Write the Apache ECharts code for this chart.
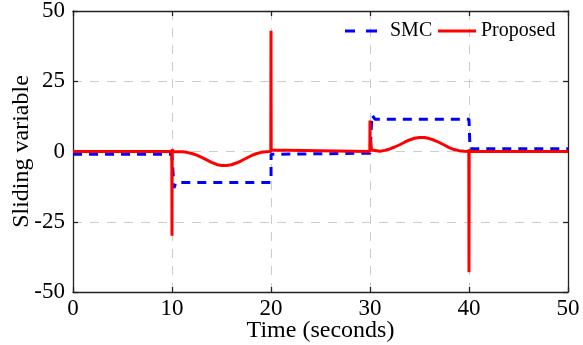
<!DOCTYPE html>
<html><head><meta charset="utf-8">
<script src="https://cdn.jsdelivr.net/npm/echarts@6/dist/echarts.min.js"></script>
<style>html,body{margin:0;padding:0;background:#fff}#c{width:583px;height:345px}</style>
</head><body><div id="c"></div>
<script>
var xTicks = [0, 10, 20, 30, 40, 50];
var yTicks = [-50, -25, 0, 25, 50];

var smcT = [0, 9.99, 10.0, 10.2, 10.4, 20.0, 20.01, 20.1, 30.0, 30.01, 30.2, 30.5, 40.0, 40.1, 50];
var smcV = [-1, -1, -1, -13, -11, -11, -1, -0.6, -0.6, -0.9, 13, 11.5, 11.5, 1, 1];

var propT = [0, 9.98, 10.0, 10.02, 10.05, 10.1, 10.2, 11, 11.5, 12, 12.5, 13, 13.5, 14, 14.5, 15, 15.5, 16, 16.5, 17, 17.5, 18, 18.5, 19, 19.5, 19.98, 20.0, 20.02, 20.05, 20.1,
  29.98, 30.0, 30.02, 30.08, 30.15, 30.2, 30.3, 31, 31.5, 32, 32.5, 33, 33.5, 34, 34.5, 35, 35.5, 36, 36.5, 37, 37.5, 38, 38.5, 39, 39.5, 39.98, 40.0, 40.02, 40.05, 40.1, 50];
var propV = [0, 0, -30, 0.8, 0.3, 0, 0, -0.1, -0.3, -0.7, -1.3, -2.1, -3.0, -3.9, -4.6, -5.0, -5.0, -4.7, -4.1, -3.3, -2.4, -1.5, -0.8, -0.3, -0.1, 0, 43, 0.5, 0.2, 0,
  0, 11, 1, 4, 0.5, 0.2, 0, 0.1, 0.4, 0.9, 1.6, 2.4, 3.3, 4.1, 4.7, 5.0, 5.0, 4.6, 4.0, 3.2, 2.3, 1.4, 0.7, 0.3, 0.1, 0, -43, 0.8, 0.2, 0, 0];

function pairs(t, v) { return t.map(function (x, i) { return [x, v[i]]; }); }

var font = 'Liberation Serif, Times New Roman, serif';
var chart = echarts.init(document.getElementById('c'));
var axisLine = { show: true, onZero: false, lineStyle: { color: '#222', width: 1.3 } };
var tick = { show: true, inside: true, length: 5, lineStyle: { color: '#222', width: 1.3 } };
var legendText = { fontFamily: font, fontSize: 20, color: '#000' };
chart.setOption({
  animation: false,
  grid: { left: 73, top: 11, width: 495, height: 281, outerBoundsMode: 'none', containLabel: false },
  legend: [{
    left: 340, top: 16, itemWidth: 32, itemHeight: 3,
    textStyle: Object.assign({ padding: [0, 0, 0, 8] }, legendText),
    data: [{ name: 'SMC', icon: 'path://M0,0h10v3H0zM21,0h11v3h-11z', itemStyle: { color: '#0000ff' } }]
  }, {
    left: 433, top: 16, itemWidth: 38, itemHeight: 3,
    textStyle: legendText,
    data: [{ name: 'Proposed', icon: 'path://M0,0h38v3H0z', itemStyle: { color: '#ff0000' } }]
  }],
  xAxis: [{
    type: 'value', min: 0, max: 50, interval: 10,
    name: 'Time (seconds)', nameLocation: 'middle', nameGap: 27, nameMoveOverlap: false,
    nameTextStyle: { fontFamily: font, fontSize: 24, color: '#000' },
    axisLine: axisLine, axisTick: tick,
    axisLabel: { fontFamily: font, fontSize: 23, color: '#000', margin: 5, formatter: function (v) { return xTicks.indexOf(v) >= 0 ? String(v) : ''; } },
    splitLine: { show: true, lineStyle: { color: '#cccccc', type: [9, 8], width: 1 } }
  }, {
    type: 'value', min: 0, max: 50, interval: 10, position: 'top',
    axisLine: axisLine, axisTick: tick, axisLabel: { show: false }, splitLine: { show: false }
  }],
  yAxis: [{
    type: 'value', min: -50, max: 50, interval: 25,
    name: 'Sliding variable', nameLocation: 'middle', nameGap: 39, nameMoveOverlap: false,
    nameTextStyle: { fontFamily: font, fontSize: 24, color: '#000' },
    axisLine: axisLine, axisTick: tick,
    axisLabel: { fontFamily: font, fontSize: 23, color: '#000', margin: 8, formatter: function (v) { return yTicks.indexOf(v) >= 0 ? String(v) : ''; } },
    splitLine: { show: true, lineStyle: { color: '#cccccc', type: [9, 8], width: 1 } }
  }, {
    type: 'value', min: -50, max: 50, interval: 25, position: 'right',
    axisLine: axisLine, axisTick: tick, axisLabel: { show: false }, splitLine: { show: false }
  }],
  series: [{
    name: 'SMC', type: 'line', data: pairs(smcT, smcV), showSymbol: false, symbol: 'none',
    lineStyle: { color: '#0000ff', width: 3, type: [9, 7] }, itemStyle: { color: '#0000ff' }, z: 2
  }, {
    name: 'Proposed', type: 'line', data: pairs(propT, propV), showSymbol: false, symbol: 'none',
    lineStyle: { color: '#ff0000', width: 3 }, itemStyle: { color: '#ff0000' }, z: 3
  }]
});
</script></body></html>
